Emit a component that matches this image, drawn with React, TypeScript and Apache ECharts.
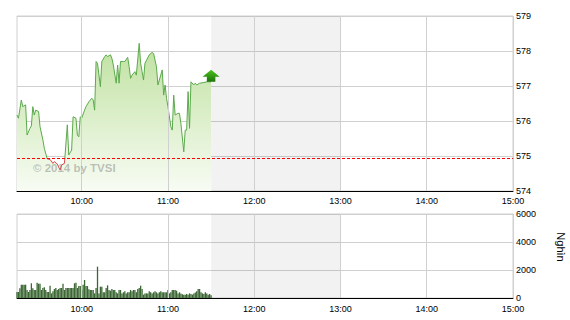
import React, { useEffect, useRef } from "react";
import * as echarts from "echarts";

// Session starts 9:15 (555 minutes after midnight), closes 15:00.
const SESSION_START = 555;
const SESSION_END = 900;
const LUNCH_START = 690; // 11:30
const LUNCH_END = 780; // 13:00

// Reference (previous close) level
const REF_PRICE = 574.93;

// Index points: minutes after 9:15 and index value
const priceMinutes = [
  0, 1, 3, 4, 6, 7, 9, 10, 11, 12, 13, 15, 16, 18, 19, 21, 23, 25, 26, 28, 30, 31, 33, 35, 36, 38, 39,
  41, 42, 43, 44, 45, 47, 48, 50, 52, 53, 54, 55, 56, 58, 59, 61, 62, 63, 65, 66, 67, 69, 70, 71, 72,
  74, 75, 77, 78, 79, 80, 82, 83, 85, 86, 87, 88, 89, 92, 94, 95, 97, 98, 99, 101, 102, 103, 104, 105,
  107, 108, 109, 110, 112, 113, 114, 116, 117, 118, 119, 120, 121, 123, 124, 125, 127, 130, 132, 135,
];
const priceValues = [
  576.17, 576.08, 576.6, 576.41, 576.46, 575.6, 575.79, 575.86, 576.41, 576.17, 576.31, 576.27, 575.84,
  575.46, 575.22, 574.92, 574.9, 574.79, 574.84, 574.77, 574.6, 574.74, 574.79, 575.89, 575.03, 575.17,
  576.12, 576.08, 575.6, 575.55, 576.12, 576.08, 576.31, 576.41, 576.55, 576.65, 576.6, 576.31, 577.7,
  577.65, 576.98, 577.7, 577.84, 577.89, 577.84, 577.89, 577.79, 577.6, 577.08, 577.6, 577.08, 577.7,
  577.7, 577.7, 577.82, 577.55, 577.22, 577.31, 577.41, 577.31, 578.22, 577.65, 577.41, 577.17, 577.65,
  577.89, 577.96, 577.93, 577.55, 577.03, 577.17, 577.46, 576.74, 577.03, 576.65, 576.41, 575.84,
  575.74, 576.74, 576.17, 576.22, 576.22, 575.93, 575.12, 575.74, 575.74, 576.84, 575.79, 577.12,
  577.03, 577.08, 577.03, 577.08, 577.1, 577.12, 577.12,
];

// Traded volume (thousand shares) per minute from 9:15
const volumeValues = [
  430, 430, 700, 950, 950, 950, 950, 570, 430, 570,
  1050, 690, 570, 570, 1095, 1020, 1020, 570, 715, 760,
  570, 430, 430, 880, 330, 475, 640, 715, 570, 640,
  715, 715, 1020, 570, 715, 715, 715, 715, 715, 715,
  1050, 1095, 715, 855, 855, 570, 950, 1285, 855, 855,
  620, 570, 570, 570, 330, 715, 2240, 330, 810, 810,
  405, 405, 715, 905, 570, 520, 640, 570, 570, 405,
  330, 570, 570, 330, 405, 475, 330, 405, 405, 570,
  475, 570, 570, 405, 640, 715, 880, 640, 240, 330,
  330, 330, 475, 405, 330, 405, 475, 405, 330, 405,
  475, 405, 405, 405, 405, 570, 330, 405, 570, 570,
  570, 520, 330, 405, 330, 260, 240, 240, 290, 240,
  330, 290, 240, 330, 400, 475, 640, 640, 405, 330,
  290, 405, 330, 240, 290, 200,
];

const priceTicks = { min: 574, max: 579, step: 1 };
const volumeTicks = { min: 0, max: 6000, step: 2000 };

const FONT = "'Liberation Sans', Arial, sans-serif";
const GRID_COLOR = "#d0d0d0";

const timeLabel = (v: number) =>
  v % 60 === 0 ? `${Math.floor(v / 60)}:00` : "";

export default function App() {
  const ref = useRef<HTMLDivElement>(null);

  useEffect(() => {
    if (!ref.current) return;
    const chart = echarts.init(ref.current, undefined, { renderer: "svg" });

    const priceData = priceMinutes.map((m, i) => [SESSION_START + m, priceValues[i]]);
    const volumeData = volumeValues.map((v, i) => [SESSION_START + i, v]);
    const last = priceData[priceData.length - 1];

    const lunchArea = {
      silent: true,
      itemStyle: { color: "rgba(0,0,0,0.05)" },
      data: [[{ xAxis: LUNCH_START }, { xAxis: LUNCH_END }]],
    };

    // lines every 15 min; only the full hours are drawn
    const hourLineColors = ["rgba(0,0,0,0)", "rgba(0,0,0,0)", "rgba(0,0,0,0)", GRID_COLOR];

    const xAxis = [0, 1].map((i) => ({
      type: "value",
      gridIndex: i,
      min: SESSION_START,
      max: SESSION_END,
      interval: 15,
      axisLine: { show: true, onZero: false, lineStyle: { color: "#000", width: 1 } },
      axisTick: { show: false },
      axisLabel: {
        fontSize: 9,
        color: "#000",
        fontFamily: FONT,
        margin: i === 0 ? 5 : 6,
        formatter: timeLabel,
        showMinLabel: true,
        showMaxLabel: true,
      },
      splitLine: { show: true, lineStyle: { color: hourLineColors, width: 1 } },
      z: 5,
    }));

    const yAxisBase = {
      type: "value",
      position: "right",
      axisLine: { show: false },
      axisTick: { show: false },
      axisLabel: {
        fontSize: 9,
        color: "#000",
        fontFamily: FONT,
        margin: 3,
        formatter: (v: number) => String(v),
      },
      splitLine: { show: true, lineStyle: { color: GRID_COLOR, width: 1 } },
    };

    chart.setOption({
      animation: false,
      textStyle: { fontFamily: FONT },
      grid: [
        { left: 17, top: 16, width: 496, height: 175, show: true, borderColor: GRID_COLOR, borderWidth: 1 },
        { left: 17, top: 214, width: 496, height: 84, show: true, borderColor: GRID_COLOR, borderWidth: 1 },
      ],
      xAxis,
      yAxis: [
        { ...yAxisBase, gridIndex: 0, min: priceTicks.min, max: priceTicks.max, interval: priceTicks.step },
        { ...yAxisBase, gridIndex: 1, min: volumeTicks.min, max: volumeTicks.max, interval: volumeTicks.step },
      ],
      visualMap: {
        show: false,
        type: "piecewise",
        seriesIndex: 0,
        dimension: 1,
        pieces: [
          { gte: priceTicks.min, lt: REF_PRICE, color: "#e0474c" },
          { gte: REF_PRICE, lte: priceTicks.max, color: "#5aa94a" },
        ],
        outOfRange: { color: "#5aa94a" },
      },
      series: [
        {
          name: "VN-Index",
          type: "line",
          xAxisIndex: 0,
          yAxisIndex: 0,
          data: priceData,
          symbol: "none",
          showSymbol: false,
          lineStyle: { width: 1 },
          areaStyle: {
            opacity: 1,
            color: new echarts.graphic.LinearGradient(0, 0, 0, 1, [
              { offset: 0, color: "#bfe1a0" },
              { offset: 1, color: "#f8fcf4" },
            ]),
          },
          markArea: lunchArea,
          markLine: {
            silent: true,
            symbol: "none",
            label: { show: false },
            lineStyle: { color: "#ff0000", type: [3, 2], width: 1 },
            data: [{ yAxis: REF_PRICE }],
          },
          markPoint: {
            silent: true,
            symbol: "path://M8,0 L16,7 L12,7 L12,12 L4,12 L4,7 L0,7 Z",
            symbolSize: [17, 12],
            symbolOffset: [0, -6],
            label: { show: false },
            itemStyle: {
              color: new echarts.graphic.LinearGradient(0, 0, 0, 1, [
                { offset: 0, color: "#4cc21c" },
                { offset: 1, color: "#1d740b" },
              ]),
            },
            data: [{ coord: last }],
          },
          z: 3,
        },
        {
          name: "Khối lượng",
          type: "bar",
          xAxisIndex: 1,
          yAxisIndex: 1,
          data: volumeData,
          barWidth: 1.3,
          itemStyle: { color: "#3b6733" },
          markArea: lunchArea,
        },
      ],
      graphic: [
        {
          type: "text",
          left: 33,
          top: 162,
          z: 10,
          style: {
            text: "© 2014 by TVSI",
            font: `bold 11.5px ${FONT}`,
            fill: "rgba(120,120,120,0.45)",
          },
        },
        {
          type: "text",
          x: 561,
          y: 247,
          rotation: -Math.PI / 2,
          style: {
            text: "Nghìn",
            font: `11px ${FONT}`,
            fill: "#000",
            align: "center",
            verticalAlign: "middle",
          },
        },
      ],
    });

    return () => chart.dispose();
  }, []);

  return (
    <div
      ref={ref}
      style={{ position: "absolute", left: 0, top: 0, width: 570, height: 320, background: "#fff" }}
    />
  );
}
